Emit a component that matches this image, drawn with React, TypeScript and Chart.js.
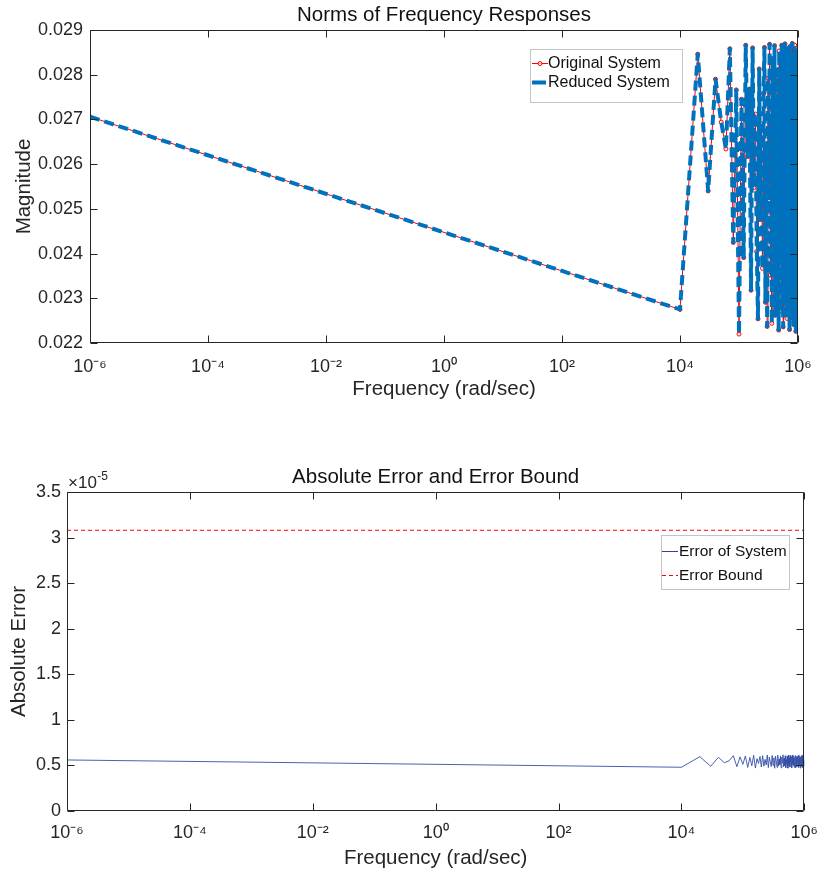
import { useEffect, useRef } from 'react';
import { Chart, registerables } from 'chart.js';

Chart.register(...registerables);

const FONT = '"Liberation Sans", Arial, Helvetica, sans-serif';
const AXIS_COLOR = '#262626';

// Frequencies (rad/sec): one low point, then 1e4 ... 1e6 in steps of 1e4
const frequency = [
  1e-6,
  1e4, 2e4, 3e4, 4e4, 5e4, 6e4, 7e4, 8e4, 9e4, 10e4,
  11e4, 12e4, 13e4, 14e4, 15e4, 16e4, 17e4, 18e4, 19e4, 20e4,
  21e4, 22e4, 23e4, 24e4, 25e4, 26e4, 27e4, 28e4, 29e4, 30e4,
  31e4, 32e4, 33e4, 34e4, 35e4, 36e4, 37e4, 38e4, 39e4, 40e4,
  41e4, 42e4, 43e4, 44e4, 45e4, 46e4, 47e4, 48e4, 49e4, 50e4,
  51e4, 52e4, 53e4, 54e4, 55e4, 56e4, 57e4, 58e4, 59e4, 60e4,
  61e4, 62e4, 63e4, 64e4, 65e4, 66e4, 67e4, 68e4, 69e4, 70e4,
  71e4, 72e4, 73e4, 74e4, 75e4, 76e4, 77e4, 78e4, 79e4, 80e4,
  81e4, 82e4, 83e4, 84e4, 85e4, 86e4, 87e4, 88e4, 89e4, 90e4,
  91e4, 92e4, 93e4, 94e4, 95e4, 96e4, 97e4, 98e4, 99e4, 100e4,
];

// Norm of frequency response (original and reduced coincide visually)
const magnitudeOriginal = [
  0.02706,
  0.02275, 0.02846, 0.02540, 0.02790, 0.02694, 0.02634, 0.02858, 0.02425, 0.02766, 0.02220,
  0.02745, 0.02391, 0.02866, 0.02617, 0.02768, 0.02318, 0.02860, 0.02548, 0.02712, 0.02405,
  0.02254, 0.02813, 0.02476, 0.02684, 0.02367, 0.02758, 0.02861, 0.02291, 0.02645, 0.02237,
  0.02792, 0.02519, 0.02868, 0.02352, 0.02703, 0.02244, 0.02836, 0.02587, 0.02430, 0.02865,
  0.02262, 0.02741, 0.02498, 0.02810, 0.02335, 0.02660, 0.02229, 0.02853, 0.02571, 0.02398,
  0.02779, 0.02271, 0.02866, 0.02455, 0.02691, 0.02236, 0.02825, 0.02610, 0.02342, 0.02869,
  0.02288, 0.02734, 0.02512, 0.02847, 0.02255, 0.02666, 0.02421, 0.02858, 0.02305, 0.02799,
  0.02538, 0.02230, 0.02863, 0.02380, 0.02721, 0.02267, 0.02842, 0.02597, 0.02326, 0.02870,
  0.02249, 0.02756, 0.02483, 0.02831, 0.02241, 0.02679, 0.02410, 0.02866, 0.02296, 0.02787,
  0.02527, 0.02226, 0.02859, 0.02362, 0.02708, 0.02260, 0.02850, 0.02770, 0.02233, 0.02431,
];
const magnitudeReduced = magnitudeOriginal;

// Absolute error, in units of 1e-5
const errorOfSystem = [
  0.560,
  0.480, 0.596, 0.490, 0.589, 0.530, 0.552, 0.607, 0.486, 0.594, 0.512,
  0.603, 0.478, 0.588, 0.497, 0.611, 0.471, 0.575, 0.523, 0.598, 0.483,
  0.607, 0.491, 0.566, 0.505, 0.614, 0.476, 0.592, 0.538, 0.487, 0.609,
  0.501, 0.583, 0.469, 0.601, 0.548, 0.480, 0.612, 0.494, 0.571, 0.509,
  0.604, 0.473, 0.590, 0.527, 0.616, 0.485, 0.579, 0.498, 0.606, 0.476,
  0.562, 0.517, 0.599, 0.470, 0.611, 0.503, 0.585, 0.482, 0.608, 0.535,
  0.489, 0.597, 0.474, 0.613, 0.511, 0.577, 0.495, 0.605, 0.479, 0.588,
  0.544, 0.472, 0.610, 0.500, 0.593, 0.486, 0.603, 0.520, 0.569, 0.477,
  0.615, 0.492, 0.581, 0.506, 0.600, 0.471, 0.594, 0.530, 0.488, 0.609,
  0.497, 0.586, 0.475, 0.612, 0.514, 0.573, 0.483, 0.602, 0.493, 0.560,
];
const boundFrequency = [1e-6, 1e6];
const errorBound = [3.08, 3.08];

const xTickValues = [1e-6, 1e-4, 1e-2, 1e0, 1e2, 1e4, 1e6];
const xTickLabels = ['10⁻⁶', '10⁻⁴', '10⁻²', '10⁰', '10²', '10⁴', '10⁶'];
const magTickValues = [0.022, 0.023, 0.024, 0.025, 0.026, 0.027, 0.028, 0.029];
const magTickLabels = ['0.022', '0.023', '0.024', '0.025', '0.026', '0.027', '0.028', '0.029'];
const errTickValues = [0, 0.5, 1, 1.5, 2, 2.5, 3, 3.5];
const errTickLabels = ['0', '0.5', '1', '1.5', '2', '2.5', '3', '3.5'];

const boxPlugin = {
  id: 'matlabBox',
  afterDraw(chart: any) {
    const { ctx, chartArea: a } = chart;
    const L = Math.round(a.left) + 0.5;
    const R = Math.round(a.right) - 0.5;
    const T = Math.round(a.top) + 0.5;
    const B = Math.round(a.bottom) - 0.5;
    const tl = 7;
    ctx.save();
    ctx.strokeStyle = AXIS_COLOR;
    ctx.lineWidth = 1;
    ctx.beginPath();
    ctx.rect(L, T, R - L, B - T);
    const xs = chart.scales.x;
    const ys = chart.scales.y;
    xs.ticks.forEach((t: any) => {
      const px = Math.round(xs.getPixelForValue(t.value)) + 0.5;
      ctx.moveTo(px, B);
      ctx.lineTo(px, B - tl);
      ctx.moveTo(px, T);
      ctx.lineTo(px, T + tl);
    });
    ys.ticks.forEach((t: any) => {
      const py = Math.round(ys.getPixelForValue(t.value)) + 0.5;
      ctx.moveTo(L, py);
      ctx.lineTo(L + tl, py);
      ctx.moveTo(R, py);
      ctx.lineTo(R - tl, py);
    });
    ctx.stroke();
    ctx.restore();
  },
};

const legendPlugin = {
  id: 'boxLegend',
  afterDraw(chart: any, _args: any, opts: any) {
    if (!opts || !opts.items) return;
    const { ctx, chartArea: a } = chart;
    const x = Math.round(a.left + opts.dx);
    const y = Math.round(a.top + opts.dy);
    ctx.save();
    ctx.fillStyle = '#ffffff';
    ctx.fillRect(x, y, opts.w, opts.h);
    ctx.strokeStyle = '#c4c4c4';
    ctx.lineWidth = 1;
    ctx.strokeRect(x + 0.5, y + 0.5, opts.w, opts.h);
    opts.items.forEach((it: any) => {
      const cy = y + it.y + 0.5;
      ctx.save();
      ctx.strokeStyle = it.color;
      ctx.lineWidth = it.width;
      ctx.setLineDash(it.dash || []);
      ctx.beginPath();
      ctx.moveTo(x + it.x0, cy);
      ctx.lineTo(x + it.x1, cy);
      ctx.stroke();
      if (it.marker) {
        ctx.setLineDash([]);
        ctx.lineWidth = 1;
        ctx.fillStyle = 'rgba(255,255,255,0.6)';
        ctx.beginPath();
        ctx.arc(x + (it.x0 + it.x1) / 2, cy, 2, 0, Math.PI * 2);
        ctx.fill();
        ctx.stroke();
      }
      ctx.restore();
      ctx.fillStyle = '#111111';
      ctx.font = `${opts.fontSize}px ${FONT}`;
      ctx.textBaseline = 'middle';
      ctx.textAlign = 'left';
      ctx.fillText(it.label, x + opts.tx, cy);
    });
    ctx.restore();
  },
};

const exponentPlugin = {
  id: 'axisExponent',
  afterDraw(chart: any, _args: any, opts: any) {
    if (!opts || !opts.text) return;
    const { ctx, chartArea: a } = chart;
    ctx.save();
    ctx.fillStyle = AXIS_COLOR;
    ctx.textBaseline = 'alphabetic';
    ctx.textAlign = 'left';
    ctx.font = `17px ${FONT}`;
    const bx = a.left + 1;
    const by = a.top - 4;
    ctx.fillText(opts.text, bx, by);
    const w = ctx.measureText(opts.text).width;
    ctx.font = `12px ${FONT}`;
    ctx.fillText(opts.exp, bx + w + 0.5, by - 8);
    ctx.restore();
  },
};

function xScale(height: number, tickPad: number, titlePadBottom: number) {
  return {
    type: 'logarithmic',
    min: 1e-6,
    max: 1e6,
    afterBuildTicks: (s: any) => {
      s.ticks = xTickValues.map((v) => ({ value: v }));
    },
    afterFit: (s: any) => {
      s.height = height;
    },
    ticks: {
      callback: (_v: any, i: number) => xTickLabels[i],
      font: { family: FONT, size: 18 },
      color: AXIS_COLOR,
      padding: tickPad,
      autoSkip: false,
      maxRotation: 0,
      minRotation: 0,
    },
    grid: { display: false, drawTicks: false },
    border: { display: false },
    title: {
      display: true,
      text: 'Frequency (rad/sec)',
      font: { family: FONT, size: 20.5 },
      color: AXIS_COLOR,
      padding: { top: 0, bottom: titlePadBottom },
    },
  };
}

function yScale(min: number, max: number, values: number[], labels: string[], width: number, tickPad: number, title: string, titlePadTop: number) {
  return {
    type: 'linear',
    min,
    max,
    afterBuildTicks: (s: any) => {
      s.ticks = values.map((v) => ({ value: v }));
    },
    afterFit: (s: any) => {
      s.width = width;
    },
    ticks: {
      callback: (_v: any, i: number) => labels[i],
      font: { family: FONT, size: 18 },
      color: AXIS_COLOR,
      padding: tickPad,
      autoSkip: false,
    },
    grid: { display: false, drawTicks: false },
    border: { display: false },
    title: {
      display: true,
      text: title,
      font: { family: FONT, size: 20.5 },
      color: AXIS_COLOR,
      padding: { top: titlePadTop, bottom: 0 },
    },
  };
}

export default function App() {
  const topRef = useRef<HTMLCanvasElement | null>(null);
  const botRef = useRef<HTMLCanvasElement | null>(null);

  useEffect(() => {
    const top = new Chart(topRef.current as HTMLCanvasElement, {
      type: 'line',
      data: {
        datasets: [
          {
            label: 'Original System',
            data: frequency.map((f, i) => ({ x: f, y: magnitudeOriginal[i] })),
            borderColor: '#ff0000',
            borderWidth: 1,
            pointRadius: 2,
            pointBorderWidth: 1,
            pointBorderColor: '#ff0000',
            pointBackgroundColor: 'rgba(255,255,255,0.6)',
            tension: 0,
            order: 2,
          },
          {
            label: 'Reduced System',
            data: frequency.map((f, i) => ({ x: f, y: magnitudeReduced[i] })),
            borderColor: '#0072BD',
            borderWidth: 4,
            borderDash: [10, 5],
            borderJoinStyle: 'round',
            borderCapStyle: 'butt',
            pointRadius: 0,
            tension: 0,
            order: 1,
          },
        ],
      },
      options: {
        responsive: false,
        animation: false,
        devicePixelRatio: 1,
        layout: { padding: { left: 0, right: 31, top: 0, bottom: 0 } },
        scales: {
          x: xScale(67, 13, 8),
          y: yScale(0.022, 0.029, magTickValues, magTickLabels, 90, 7, 'Magnitude', 12),
        },
        plugins: {
          legend: { display: false },
          tooltip: { enabled: false },
          title: {
            display: true,
            text: 'Norms of Frequency Responses',
            fullSize: false,
            color: '#111111',
            font: { family: FONT, size: 20.5, weight: 'normal' },
            padding: { top: 3, bottom: 2.4 },
          },
          boxLegend: {
            dx: 440,
            dy: 19,
            w: 152,
            h: 53,
            tx: 18,
            fontSize: 16,
            items: [
              { label: 'Original System', color: '#ff0000', width: 1, x0: 2, x1: 18, y: 14, marker: true },
              { label: 'Reduced System', color: '#0072BD', width: 4, x0: 2, x1: 16, y: 33 },
            ],
          },
        },
      } as any,
      plugins: [boxPlugin, legendPlugin],
    } as any);

    const bottom = new Chart(botRef.current as HTMLCanvasElement, {
      type: 'line',
      data: {
        datasets: [
          {
            label: 'Error of System',
            data: frequency.map((f, i) => ({ x: f, y: errorOfSystem[i] })),
            borderColor: '#3550a6',
            borderWidth: 0.9,
            pointRadius: 0,
            tension: 0,
          },
          {
            label: 'Error Bound',
            data: boundFrequency.map((f, i) => ({ x: f, y: errorBound[i] })),
            borderColor: '#ff0000',
            borderWidth: 1,
            borderDash: [4, 3],
            pointRadius: 0,
            tension: 0,
          },
        ],
      },
      options: {
        responsive: false,
        animation: false,
        devicePixelRatio: 1,
        layout: { padding: { left: 0, right: 18, top: 0, bottom: 0 } },
        scales: {
          x: xScale(61, 11, 1.7),
          y: yScale(0, 3.5, errTickValues, errTickLabels, 67, 6, 'Absolute Error', 7),
        },
        plugins: {
          legend: { display: false },
          tooltip: { enabled: false },
          title: {
            display: true,
            text: 'Absolute Error and Error Bound',
            fullSize: false,
            color: '#111111',
            font: { family: FONT, size: 20.5, weight: 'normal' },
            padding: { top: 25, bottom: 2.4 },
          },
          axisExponent: { text: '×10', exp: '-5' },
          boxLegend: {
            dx: 594,
            dy: 43,
            w: 128,
            h: 54,
            tx: 18,
            fontSize: 15.5,
            items: [
              { label: 'Error of System', color: '#2f4590', width: 1, x0: 1, x1: 17, y: 16 },
              { label: 'Error Bound', color: '#ff0000', width: 1, x0: 1, x1: 17, y: 40, dash: [4, 3] },
            ],
          },
        },
      } as any,
      plugins: [boxPlugin, legendPlugin, exponentPlugin],
    } as any);

    return () => {
      top.destroy();
      bottom.destroy();
    };
  }, []);

  return (
    <div style={{ position: 'fixed', left: 0, top: 0, width: 829, height: 872, background: '#ffffff' }}>
      <canvas ref={topRef} width={829} height={410} style={{ position: 'absolute', left: 0, top: 0, width: 829, height: 410 }} />
      <canvas ref={botRef} width={829} height={432} style={{ position: 'absolute', left: 0, top: 440, width: 829, height: 432 }} />
    </div>
  );
}
